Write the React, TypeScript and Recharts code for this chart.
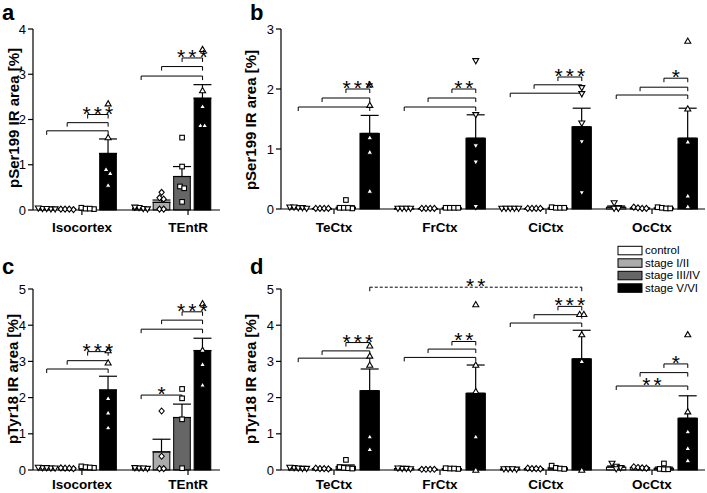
import React from 'react';
import {
  ComposedChart,
  Bar,
  Cell,
  ErrorBar,
  Scatter,
  XAxis,
  YAxis,
  ReferenceLine,
  ReferenceDot,
} from 'recharts';

const FONT = '"Liberation Sans", Arial, Helvetica, sans-serif';

// ---------- categories ----------
const stages = ['control', 'stage I/II', 'stage III/IV', 'stage V/VI'];
const stageFills = ['#ffffff', '#ababab', '#666666', '#000000'];
const stageMarkers = ['down', 'diamond', 'square', 'up'];

const coreRegions = ['Isocortex', 'TEntR'];
const ctxRegions = ['TeCtx', 'FrCtx', 'CiCtx', 'OcCtx'];

// ---------- panel a : pSer199, Isocortex / TEntR ----------
const ser199CoreMeans = [
  [0.03, 0.02, 0.03, 1.25],
  [0.03, 0.17, 0.74, 2.47],
];
const ser199CoreSem = [
  [0.01, 0.005, 0.01, 0.32],
  [0.01, 0.05, 0.22, 0.3],
];
const ser199CorePoints = [
  [[0.03, 0.04, 0.02, 0.03, 0.02], [0.02, 0.01, 0.02, 0.02], [0.05, 0.03, 0.02, 0.03], [2.35, 1.6, 0.9, 0.81, 0.55]],
  [[0.03, 0.05, 0.02, 0.06], [0.39, 0.27, 0.24, 0.02, 0.02], [1.6, 0.96, 0.52, 0.48, 0.18], [3.55, 2.64, 2.29, 1.87, 1.87]],
];

// ---------- panel b : pSer199, cortices ----------
const ser199CtxMeans = [
  [0.02, 0.01, 0.03, 1.26],
  [0.01, 0.01, 0.02, 1.18],
  [0.01, 0.01, 0.02, 1.37],
  [0.03, 0.02, 0.02, 1.18],
];
const ser199CtxSem = [
  [0.005, 0.003, 0.025, 0.3],
  [0.003, 0.003, 0.005, 0.39],
  [0.003, 0.003, 0.005, 0.31],
  [0.02, 0.005, 0.005, 0.5],
];
const ser199CtxPoints = [
  [[0.02, 0.03, 0.02, 0.03, 0.01], [0.01, 0.01, 0.01, 0.01], [0.15, 0.02, 0.02, 0.01, 0.02], [2.07, 1.73, 1.19, 0.95, 0.3]],
  [[0.01, 0.01, 0.01, 0.01], [0.01, 0.01, 0.01, 0.01], [0.02, 0.02, 0.02, 0.02], [2.47, 1.57, 1.05, 0.78, 0.04]],
  [[0.01, 0.01, 0.01, 0.01, 0.01], [0.01, 0.01, 0.01, 0.01], [0.03, 0.02, 0.02, 0.02], [2.02, 1.92, 1.43, 1.12, 0.27]],
  [[0.1, 0.02, 0.01, 0.01], [0.03, 0.02, 0.01, 0.01], [0.03, 0.02, 0.01, 0.01], [2.8, 1.67, 1.12, 0.22, 0.04]],
];
const ser199CtxMarkers = [
  ['down', 'diamond', 'square', 'up'],
  ['down', 'diamond', 'square', 'down'],
  ['down', 'diamond', 'square', 'down'],
  ['down', 'diamond', 'square', 'up'],
];

// ---------- panel c : pTyr18, Isocortex / TEntR ----------
const tyr18CoreMeans = [
  [0.06, 0.05, 0.08, 2.21],
  [0.05, 0.5, 1.45, 3.3],
];
const tyr18CoreSem = [
  [0.01, 0.01, 0.02, 0.38],
  [0.01, 0.35, 0.37, 0.34],
];
const tyr18CorePoints = [
  [[0.06, 0.05, 0.06, 0.07, 0.05], [0.05, 0.04, 0.06, 0.05], [0.1, 0.08, 0.06, 0.07], [3.3, 2.96, 1.98, 1.58, 1.17]],
  [[0.05, 0.06, 0.04, 0.05], [1.63, 0.38, 0.04, 0.04], [2.24, 1.98, 1.4, 0.05], [4.6, 3.31, 2.92, 2.35]],
];

// ---------- panel d : pTyr18, cortices ----------
const tyr18CtxMeans = [
  [0.05, 0.04, 0.1, 2.19],
  [0.04, 0.02, 0.04, 2.12],
  [0.03, 0.04, 0.06, 3.07],
  [0.08, 0.07, 0.05, 1.43],
];
const tyr18CtxSem = [
  [0.01, 0.01, 0.04, 0.6],
  [0.01, 0.005, 0.01, 0.78],
  [0.01, 0.01, 0.02, 0.79],
  [0.03, 0.01, 0.03, 0.62],
];
const tyr18CtxPoints = [
  [[0.06, 0.05, 0.04, 0.07, 0.04], [0.04, 0.05, 0.03, 0.04], [0.28, 0.08, 0.06, 0.05, 0.04], [3.43, 3.15, 2.9, 0.92, 0.57]],
  [[0.04, 0.05, 0.03, 0.04], [0.02, 0.02, 0.02, 0.02], [0.04, 0.05, 0.03, 0.04], [4.57, 2.9, 2.17, 0.92, 0.0]],
  [[0.03, 0.03, 0.02, 0.03], [0.05, 0.04, 0.03, 0.04], [0.12, 0.06, 0.04, 0.03], [4.3, 4.3, 3.74, 3.0, 0.0]],
  [[0.18, 0.1, 0.06, 0.03], [0.09, 0.07, 0.06, 0.05], [0.18, 0.03, 0.02, 0.02], [3.74, 1.61, 1.06, 0.6, 0.26]],
];

// ---------- significance brackets ----------
type Bracket = { g: number; s1: number; s2: number; y: number; label?: string; g2?: number; dashed?: boolean };

const ser199CoreBrackets: Bracket[] = [
  { g: 0, s1: 0, s2: 3, y: 1.75 },
  { g: 0, s1: 1, s2: 3, y: 1.93 },
  { g: 0, s1: 2, s2: 3, y: 2.11, label: '***' },
  { g: 1, s1: 0, s2: 3, y: 2.96 },
  { g: 1, s1: 1, s2: 3, y: 3.17 },
  { g: 1, s1: 2, s2: 3, y: 3.36, label: '***' },
];
const ser199CtxBrackets: Bracket[] = [
  { g: 0, s1: 0, s2: 3, y: 1.7 },
  { g: 0, s1: 1, s2: 3, y: 1.85 },
  { g: 0, s1: 2, s2: 3, y: 2.0, label: '***' },
  { g: 1, s1: 0, s2: 3, y: 1.7 },
  { g: 1, s1: 1, s2: 3, y: 1.85 },
  { g: 1, s1: 2, s2: 3, y: 2.0, label: '**' },
  { g: 2, s1: 0, s2: 3, y: 1.93 },
  { g: 2, s1: 1, s2: 3, y: 2.07 },
  { g: 2, s1: 2, s2: 3, y: 2.2, label: '***' },
  { g: 3, s1: 0, s2: 3, y: 1.9 },
  { g: 3, s1: 1, s2: 3, y: 2.03 },
  { g: 3, s1: 2, s2: 3, y: 2.18, label: '*' },
];
const tyr18CoreBrackets: Bracket[] = [
  { g: 0, s1: 0, s2: 3, y: 2.79 },
  { g: 0, s1: 1, s2: 3, y: 3.02 },
  { g: 0, s1: 2, s2: 3, y: 3.27, label: '***' },
  { g: 1, s1: 0, s2: 3, y: 3.89 },
  { g: 1, s1: 1, s2: 3, y: 4.14 },
  { g: 1, s1: 2, s2: 3, y: 4.37, label: '***' },
  { g: 1, s1: 0, s2: 2, y: 2.07, label: '*' },
];
const tyr18CtxBrackets: Bracket[] = [
  { g: 0, s1: 0, s2: 3, y: 3.09 },
  { g: 0, s1: 1, s2: 3, y: 3.29 },
  { g: 0, s1: 2, s2: 3, y: 3.52, label: '***' },
  { g: 1, s1: 0, s2: 3, y: 3.11 },
  { g: 1, s1: 1, s2: 3, y: 3.34 },
  { g: 1, s1: 2, s2: 3, y: 3.55, label: '**' },
  { g: 2, s1: 0, s2: 3, y: 4.06 },
  { g: 2, s1: 1, s2: 3, y: 4.29 },
  { g: 2, s1: 2, s2: 3, y: 4.52, label: '***' },
  { g: 3, s1: 0, s2: 3, y: 2.32, label: '**' },
  { g: 3, s1: 1, s2: 3, y: 2.69 },
  { g: 3, s1: 2, s2: 3, y: 2.93, label: '*' },
  { g: 0, s1: 3, g2: 2, s2: 3, y: 5.05, label: '**', dashed: true },
];

// ---------- layout ----------
type PanelCfg = {
  regions: string[];
  means: number[][];
  sem: number[][];
  points: number[][][];
  markers?: string[][];
  brackets: Bracket[];
  yMax: number;
  yTicks: number[];
  left: number;
  top: number;
  width: number;
  height: number;
  marginTop: number;
  marginRight: number;
  marginBottom: number;
  yAxisWidth: number;
  xAxisHeight: number;
  tickMargin: number;
  xMax: number;
  groupCenters: number[];
  tickPositions: number[];
  barStep: number;
  barWidth: number;
};

const coreLayout = {
  xMax: 2,
  groupCenters: [0.475, 1.485],
  tickPositions: [0.523, 1.658],
  barStep: 0.219,
  barWidth: 0.178,
  left: 0,
  width: 225,
  yAxisWidth: 33,
  marginRight: 5,
};
const ctxLayout = {
  xMax: 4,
  groupCenters: [0.5, 1.5, 2.5, 3.5],
  tickPositions: [0.5, 1.5, 2.5, 3.5],
  barStep: 0.225,
  barWidth: 0.183,
  left: 220,
  width: 487,
  yAxisWidth: 61,
  marginRight: 2,
};
const topRow = { top: 0, height: 240, marginTop: 29, marginBottom: 5 };
const bottomRow = { top: 240, height: 253, marginTop: 49, marginBottom: 0 };

const panels: PanelCfg[] = [
  {
    ...coreLayout, ...topRow, xAxisHeight: 25, tickMargin: 7,
    regions: coreRegions, means: ser199CoreMeans, sem: ser199CoreSem, points: ser199CorePoints,
    brackets: ser199CoreBrackets, yMax: 4, yTicks: [0, 1, 2, 3, 4],
  },
  {
    ...ctxLayout, ...topRow, xAxisHeight: 26, tickMargin: 8,
    regions: ctxRegions, means: ser199CtxMeans, sem: ser199CtxSem, points: ser199CtxPoints,
    markers: ser199CtxMarkers, brackets: ser199CtxBrackets, yMax: 3, yTicks: [0, 1, 2, 3],
  },
  {
    ...coreLayout, ...bottomRow, xAxisHeight: 23, tickMargin: 4,
    regions: coreRegions, means: tyr18CoreMeans, sem: tyr18CoreSem, points: tyr18CorePoints,
    brackets: tyr18CoreBrackets, yMax: 5, yTicks: [0, 1, 2, 3, 4, 5],
  },
  {
    ...ctxLayout, ...bottomRow, xAxisHeight: 23, tickMargin: 4,
    regions: ctxRegions, means: tyr18CtxMeans, sem: tyr18CtxSem, points: tyr18CtxPoints,
    brackets: tyr18CtxBrackets, yMax: 5, yTicks: [0, 1, 2, 3, 4, 5],
  },
];

// ---------- markers ----------
const renderMarker = (props: any) => {
  const { cx, cy, payload } = props;
  if (cx == null || cy == null) return <g />;
  const common = { fill: '#ffffff', stroke: '#000000', strokeWidth: 1.1 };
  switch (payload.m) {
    case 'up':
      return <polygon points={`${cx},${cy - 3} ${cx - 3},${cy + 2.2} ${cx + 3},${cy + 2.2}`} {...common} />;
    case 'down':
      return <polygon points={`${cx},${cy + 3} ${cx - 3},${cy - 2.2} ${cx + 3},${cy - 2.2}`} {...common} />;
    case 'diamond':
      return <polygon points={`${cx},${cy - 3} ${cx + 2.6},${cy} ${cx},${cy + 3} ${cx - 2.6},${cy}`} {...common} />;
    default:
      return <rect x={cx - 2.3} y={cy - 2.3} width={4.6} height={4.6} {...common} />;
  }
};

// spread overlapping points of one column sideways
const spreadOffsets = (vals: number[], pxY: number, pxX: number): number[] => {
  const order = vals.map((v, i) => i).sort((a, b) => vals[b] - vals[a]);
  const offsets = new Array(vals.length).fill(0);
  let cluster: number[] = [];
  const flush = () => {
    const m = cluster.length;
    cluster.forEach((idx, j) => {
      offsets[idx] = ((j - (m - 1) / 2) * 4.2) / pxX;
    });
    cluster = [];
  };
  order.forEach((idx) => {
    if (cluster.length && (vals[cluster[0]] - vals[idx]) * pxY > 5) flush();
    cluster.push(idx);
  });
  flush();
  return offsets;
};

const PanelChart = ({ cfg }: { cfg: PanelCfg }) => {
  const plotW = cfg.width - cfg.yAxisWidth - cfg.marginRight;
  const plotH = cfg.height - cfg.marginTop - cfg.marginBottom - cfg.xAxisHeight;
  const pxX = plotW / cfg.xMax;
  const pxY = plotH / cfg.yMax;
  const barPx = cfg.barWidth * pxX;
  const barX = (g: number, s: number) => cfg.groupCenters[g] + (s - 1.5) * cfg.barStep;

  const bars = cfg.regions.flatMap((r, g) =>
    stages.map((st, s) => ({
      name: `${r} ${st}`,
      x: barX(g, s),
      y: cfg.means[g][s],
      err: [0, cfg.sem[g][s]],
      fill: stageFills[s],
    })),
  );

  const barShape = (p: any) => {
    const cx = p.x + p.width / 2;
    return (
      <rect
        x={cx - barPx / 2}
        y={p.y}
        width={barPx}
        height={Math.max(p.height, 0.8)}
        fill={p.payload?.fill ?? p.fill}
        stroke="#000"
        strokeWidth={1}
      />
    );
  };

  const pts: { x: number; y: number; m: string }[] = [];
  cfg.points.forEach((grp, g) =>
    grp.forEach((vals, s) => {
      const offs = spreadOffsets(vals, pxY, pxX);
      const m = cfg.markers ? cfg.markers[g][s] : stageMarkers[s];
      vals.forEach((v, i) => pts.push({ x: barX(g, s) + offs[i], y: v, m }));
    }),
  );

  const drop = 4 / pxY;
  const lines: React.ReactNode[] = [];
  const labels: React.ReactNode[] = [];
  cfg.brackets.forEach((b, i) => {
    const x1 = barX(b.g, b.s1);
    const x2 = barX(b.g2 ?? b.g, b.s2);
    const lp = { stroke: '#000', strokeWidth: 1, ifOverflow: 'visible' as const };
    lines.push(
      <ReferenceLine
        key={`h${i}`}
        segment={[{ x: x1, y: b.y }, { x: x2, y: b.y }]}
        {...lp}
        strokeDasharray={b.dashed ? '3 2' : undefined}
      />,
      <ReferenceLine key={`l${i}`} segment={[{ x: x1, y: b.y }, { x: x1, y: b.y - drop }]} {...lp} />,
      <ReferenceLine key={`r${i}`} segment={[{ x: x2, y: b.y }, { x: x2, y: b.y - drop }]} {...lp} />,
    );
    if (b.label) {
      const text = b.label;
      labels.push(
        <ReferenceDot
          key={`t${i}`}
          x={(x1 + x2) / 2}
          y={b.y}
          r={1}
          ifOverflow="visible"
          shape={(p: any) => (
            <text
              x={p.cx + 1.5}
              y={p.cy + 6}
              textAnchor="middle"
              fontFamily={FONT}
              fontSize={21}
              letterSpacing={3}
              fill="#000"
            >
              {text}
            </text>
          )}
        />,
      );
    }
  });

  return (
    <div style={{ position: 'absolute', left: cfg.left, top: cfg.top }}>
      <ComposedChart
        width={cfg.width}
        height={cfg.height}
        data={bars}
        margin={{ top: cfg.marginTop, right: cfg.marginRight, bottom: cfg.marginBottom, left: 0 }}
      >
        <XAxis
          type="number"
          dataKey="x"
          domain={[0, cfg.xMax]}
          ticks={cfg.tickPositions}
          interval={0}
          tickFormatter={(v: number) => cfg.regions[cfg.tickPositions.indexOf(v)] ?? ''}
          height={cfg.xAxisHeight}
          tickSize={5}
          tickMargin={cfg.tickMargin}
          axisLine={{ stroke: '#000', strokeWidth: 1.2 }}
          tickLine={{ stroke: '#000', strokeWidth: 1.2 }}
          tick={{ fill: '#000', fontSize: 13.5, fontWeight: 'bold', fontFamily: FONT }}
        />
        <YAxis
          type="number"
          dataKey="y"
          domain={[0, cfg.yMax]}
          ticks={cfg.yTicks}
          interval={0}
          width={cfg.yAxisWidth}
          tickSize={5}
          tickMargin={2}
          axisLine={{ stroke: '#000', strokeWidth: 1.2 }}
          tickLine={{ stroke: '#000', strokeWidth: 1.2 }}
          tick={{ fill: '#000', fontSize: 13, fontFamily: FONT }}
        />
        <Bar dataKey="y" barSize={barPx} shape={barShape} isAnimationActive={false}>
          {bars.map((b, i) => (
            <Cell key={i} fill={b.fill} />
          ))}
          <ErrorBar dataKey="err" width={9} stroke="#000" strokeWidth={1.2} direction="y" />
        </Bar>
        <Scatter data={pts} shape={renderMarker} isAnimationActive={false} />
        {lines}
        {labels}
      </ComposedChart>
    </div>
  );
};

const panelLetters = [
  { t: 'a', x: 2, y: 20 },
  { t: 'b', x: 250, y: 20 },
  { t: 'c', x: 2, y: 274 },
  { t: 'd', x: 250, y: 274 },
];
const yLabels = [
  { t: 'pSer199 IR area [%]', x: 13, y: 118 },
  { t: 'pSer199 IR area [%]', x: 250, y: 120 },
  { t: 'pTyr18 IR area [%]', x: 12, y: 379 },
  { t: 'pTyr18 IR area [%]', x: 250, y: 379 },
];

const Overlay = () => (
  <svg width={707} height={493} style={{ position: 'absolute', left: 0, top: 0, pointerEvents: 'none' }}>
    {panelLetters.map((l) => (
      <text key={l.t} x={l.x} y={l.y} fontFamily={FONT} fontWeight="bold" fontSize={22} fill="#000">
        {l.t}
      </text>
    ))}
    {yLabels.map((l, i) => (
      <text
        key={i}
        x={l.x}
        y={l.y}
        transform={`rotate(-90 ${l.x} ${l.y})`}
        textAnchor="middle"
        dominantBaseline="central"
        fontFamily={FONT}
        fontWeight="bold"
        fontSize={15}
        fill="#000"
      >
        {l.t}
      </text>
    ))}
    {stages.map((s, i) => (
      <g key={s}>
        <rect x={618} y={246.3 + i * 12.5} width={24} height={8.5} fill={stageFills[i]} stroke="#000" strokeWidth={1} />
        <text x={645} y={254.3 + i * 12.5} fontFamily={FONT} fontSize={11.5} fill="#000">
          {s}
        </text>
      </g>
    ))}
  </svg>
);

export default function App() {
  return (
    <div style={{ position: 'absolute', left: 0, top: 0, width: 707, height: 493, background: '#fff', fontFamily: FONT }}>
      {panels.map((p, i) => (
        <PanelChart key={i} cfg={p} />
      ))}
      <Overlay />
    </div>
  );
}
